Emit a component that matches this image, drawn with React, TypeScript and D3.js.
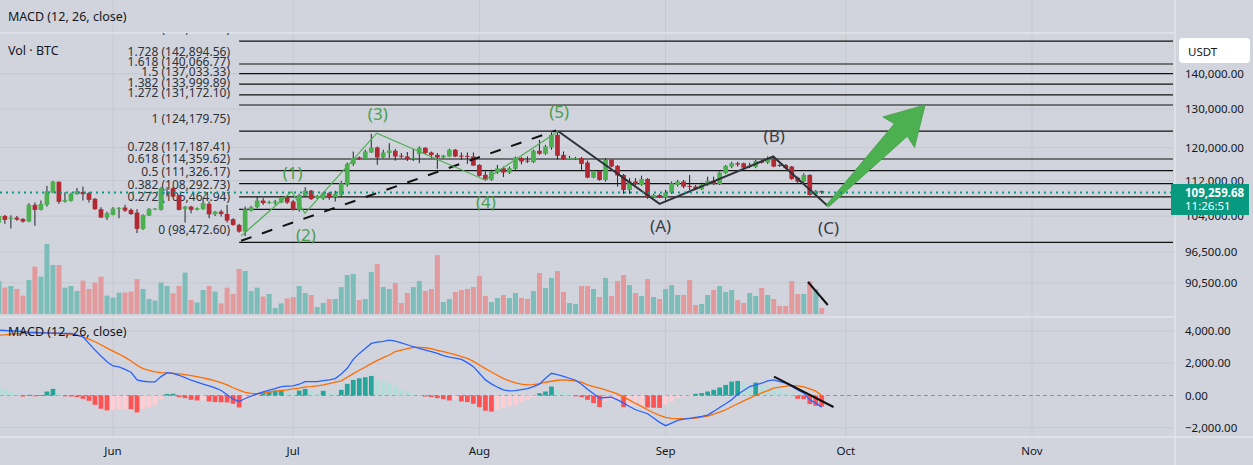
import React from 'react';
import * as d3 from 'd3';

const W = 1253;
const H = 465;
const BG = '#d1d4dc';
const FONT = '"Noto Sans", "Open Sans", sans-serif';
const TEXT = '#131722';

// daily BTC/USDT candles, 13 May – 27 Sep 2025
const firstDay = new Date(Date.UTC(2025, 4, 13));
const lastDay = new Date(Date.UTC(2025, 8, 27));
const days = d3.utcDay.range(firstDay, d3.utcDay.offset(lastDay, 1));

const opens = [
  102610, 104040, 103400, 103680, 103400, 102830, 106490, 105370, 106490, 109240,
  111730, 107220, 107380, 108880, 109400, 109110, 107830, 105520, 103680, 104250,
  105590, 105880, 105370, 104760, 101270, 104100, 105520, 105370, 109850, 110240,
  108500, 105590, 106100, 105430, 105520, 106710, 104400, 104990, 104470, 103340,
  102120, 100700, 105210, 105970, 107450, 106870, 106870, 107000, 108210, 107220,
  105370, 108500, 109680, 107990, 107900, 109110, 108210, 108700, 111000, 115910,
  117560, 117240, 118800, 120040, 117560, 118650, 119220, 118000, 117800, 117300,
  118430, 119960, 118800, 118180, 117560, 117800, 119470, 118000, 117950, 117800,
  115740, 113380, 112200, 113920, 114950, 113920, 114790, 117400, 116780, 116400,
  119220, 118470, 120040, 123240, 118180, 117200, 117200, 117400, 116310, 112710,
  114300, 112170, 116950, 115500, 113340, 109850, 111800, 111000, 112400, 108120,
  108700, 108120, 109240, 111000, 111800, 110780, 110620, 110000, 111000, 111960,
  111230, 113780, 115340, 116140, 116140, 115340, 115260, 116700, 116300, 117100,
  115740, 115740, 115340, 112700, 111760, 113340, 108900, 109620,
];
const highs = [
  104190, 104250, 104190, 104040, 103550, 106870, 107000, 107450, 110780, 111960,
  111800, 109330, 109240, 110310, 110620, 109400, 107990, 105970, 104990, 105970,
  105970, 106490, 105660, 105520, 104400, 105740, 105740, 110470, 110470, 110470,
  108700, 106260, 106260, 105900, 107760, 107220, 105140, 105370, 106490, 103550,
  102340, 106100, 106260, 108340, 107990, 107400, 107600, 108500, 108500, 107600,
  108950, 110470, 109850, 108700, 109400, 109400, 109680, 111960, 116310, 119030,
  117800, 119470, 123500, 120280, 119470, 121100, 119640, 118650, 118900, 119640,
  120280, 120100, 119030, 118650, 118200, 119700, 119640, 118800, 118800, 118800,
  115900, 114200, 114550, 115740, 115350, 115350, 117800, 117650, 117800, 119470,
  121950, 120700, 123900, 124180, 119030, 117950, 117700, 117650, 116780, 114530,
  114530, 117400, 117100, 115740, 113580, 112600, 112600, 113180, 112600, 108950,
  108950, 109850, 111800, 112170, 112170, 113340, 111000, 111560, 112940, 112940,
  114150, 115740, 116520, 116520, 116300, 116300, 116950, 116950, 117800, 117800,
  115980, 115980, 115500, 112940, 113740, 113510, 109850, 109680,
];
const lows = [
  102340, 102340, 101340, 102980, 102610, 102700, 101910, 105250, 106100, 109110,
  106710, 107000, 107220, 108800, 107450, 107000, 105370, 103600, 103190, 104190,
  103550, 104920, 104250, 100400, 101060, 104040, 105300, 105210, 108340, 108210,
  105250, 102610, 104630, 105250, 105370, 103550, 104040, 103890, 102610, 101910,
  100480, 99780, 104990, 105750, 106490, 106700, 106490, 106870, 106710, 105210,
  104990, 108340, 107600, 107760, 107600, 107600, 107220, 108340, 110620, 115500,
  117000, 117160, 118650, 115750, 117400, 117400, 116780, 117400, 116700, 116700,
  116150, 118400, 117400, 114790, 117400, 117650, 117650, 116950, 116000, 115500,
  112980, 112000, 112000, 113600, 112830, 113600, 114550, 115900, 116200, 116200,
  118220, 118220, 119470, 117100, 116950, 117100, 117000, 114530, 112550, 112550,
  112000, 111800, 115190, 110620, 108950, 108950, 111000, 110780, 107830, 107990,
  107990, 107220, 108950, 110620, 110240, 109850, 109850, 109850, 110780, 111000,
  111000, 113580, 114960, 115340, 114960, 114960, 114960, 116100, 115980, 115190,
  115260, 114700, 112170, 111500, 111500, 108550, 108630, 108950,
];
const closes = [
  104040, 103190, 103680, 103250, 102830, 106490, 105370, 106710, 109550, 111730,
  107160, 107600, 108950, 109550, 108880, 107600, 105520, 103680, 104630, 105660,
  105810, 105210, 104470, 101270, 104250, 105590, 105660, 110240, 110080, 108340,
  105370, 106100, 105370, 105750, 106870, 104400, 104990, 104470, 103040, 102120,
  100700, 105520, 105970, 107450, 106870, 107090, 107220, 108210, 107000, 105370,
  108700, 109680, 107760, 108500, 109110, 108210, 108950, 111400, 115990, 117410,
  117240, 119030, 120040, 117560, 118800, 119300, 117800, 117800, 117160, 117480,
  119960, 118650, 118150, 117560, 118000, 119470, 117800, 117800, 117800, 115570,
  113140, 112200, 114160, 114950, 113920, 114950, 117560, 116570, 116530, 119220,
  118470, 120280, 123240, 117970, 117110, 117400, 117400, 115990, 112710, 114300,
  112170, 116950, 115340, 113200, 109850, 111800, 111200, 112400, 108120, 108700,
  108120, 109240, 111400, 111800, 110620, 110540, 110000, 111160, 111960, 111230,
  113900, 115500, 116140, 115810, 115100, 115570, 116700, 116300, 117100, 115340,
  115500, 114960, 112400, 111760, 113340, 108700, 109620, 109259.68,
];
// volume, thousand BTC
const volumes = [
  16.5, 13.2, 14, 12.5, 9.2, 17, 23.7, 18.7, 35, 24.5,
  24.5, 13.2, 14, 11.5, 16.7, 12.5, 15.7, 18.7, 9.2, 8.2,
  10.7, 10.7, 11.2, 17.5, 12.5, 7.5, 6.7, 15.7, 14, 10.3,
  14, 20.7, 7, 5.8, 12, 14, 11.2, 5.3, 13.2, 10,
  22.5, 21.5, 11.5, 13.2, 8.7, 10, 3, 5.3, 7.8, 8.5,
  14, 10.5, 9.5, 3.5, 5.5, 7.5, 7.5, 13.5, 19.5, 20,
  7, 7.5, 21, 25, 13.5, 12.5, 15.5, 5.5, 10.5, 13.5,
  16.5, 11.5, 12.5, 29.5, 6, 7.5, 11, 12, 12.5, 13.5,
  19, 9, 6, 8, 9.5, 8, 10.5, 8, 7.5, 11.5,
  20.5, 13, 18, 21.5, 11, 5.5, 5, 14, 14, 12.5,
  8.5, 18, 9, 16.5, 19.5, 14.5, 10.5, 9, 17.5, 8.5,
  7.5, 12.5, 14.5, 9.5, 9.5, 17, 4.5, 5, 9.5, 12,
  14, 11, 12, 7, 5.5, 10.5, 9, 13, 9.5, 7.5,
  4, 4, 16.5, 10, 10, 16.5, 12.5, 3,
];
const macdLine = [
  4058, 4038, 4017, 3996, 3976, 3935, 3914, 3893, 3893, 3873,
  3873, 3852, 3852, 3749, 3646, 3234, 2822, 2451, 2101, 1833,
  1772, 1627, 1442, 968, 886, 845, 845, 1174, 1421, 1380,
  1257, 1112, 948, 824, 700, 597, 474, 309, 41, -227,
  -371, -185, -41, 103, 227, 330, 433, 556, 577, 597,
  700, 865, 865, 865, 927, 968, 1051, 1339, 1689, 2245,
  2616, 2925, 3234, 3317, 3358, 3440, 3378, 3275, 3152, 3028,
  2925, 2822, 2719, 2616, 2472, 2390, 2328, 2245, 2039, 1792,
  1380, 968, 721, 515, 350, 288, 309, 371, 433, 556,
  700, 1071, 1380, 1298, 1195, 1071, 948, 700, 391, 103,
  -165, -124, -103, -268, -474, -680, -886, -1009, -1133, -1401,
  -1669, -1875, -1710, -1545, -1463, -1421, -1360, -1298, -1215, -989,
  -742, -515, -268, 82, 309, 556, 659, 762, 906, 968,
  865, 762, 556, 350, 144, -268, -474, -721,
];
const signalLine = [
  3749, 3770, 3811, 3832, 3852, 3873, 3893, 3893, 3893, 3873,
  3852, 3832, 3790, 3749, 3646, 3502, 3337, 3152, 2946, 2760,
  2575, 2369, 2142, 1875, 1669, 1566, 1463, 1421, 1401, 1380,
  1339, 1298, 1236, 1174, 1092, 1009, 906, 803, 659, 480,
  330, 200, 130, 110, 140, 206, 268, 309, 350, 412,
  453, 536, 556, 597, 659, 742, 824, 906, 1133, 1360,
  1566, 1772, 1978, 2184, 2348, 2513, 2719, 2822, 2905, 2987,
  2987, 2966, 2905, 2802, 2719, 2637, 2534, 2410, 2307, 2122,
  1895, 1669, 1463, 1257, 1051, 906, 783, 700, 659, 680,
  742, 824, 886, 948, 968, 948, 906, 824, 659, 556,
  453, 350, 227, 103, -103, -288, -494, -680, -886, -1071,
  -1236, -1360, -1421, -1442, -1442, -1421, -1401, -1339, -1277, -1154,
  -1030, -886, -700, -515, -329, -165, 0, 165, 309, 453,
  515, 577, 618, 597, 536, 412, 268, 0,
];
const histogram = [
  453, 350, 206, 62, -62, 41, -41, 20, 247, 412,
  144, -41, -62, -103, -206, -330, -577, -824, -927, -910,
  -886, -840, -850, -1051, -845, -721, -577, -227, 103, 110,
  -103, -165, -268, -309, -300, -371, -412, -420, -433, -515,
  -742, -371, -165, -21, 185, 247, 309, 350, 247, 103,
  309, 412, 288, 144, 288, 185, 144, 350, 721, 968,
  1071, 1133, 1215, 1009, 865, 762, 556, 391, 247, 103,
  21, -62, -103, -165, -227, -309, -268, -371, -412, -515,
  -721, -948, -1000, -886, -783, -680, -577, -433, -268, -103,
  144, 247, 556, 350, 185, 103, -21, -103, -268, -474,
  -721, -371, -268, -260, -721, -660, -650, -640, -742, -760,
  -770, -577, -371, -165, -62, -21, 103, 144, 247, 350,
  494, 659, 865, 906, 803, 556, 803, 659, 556, 453,
  350, 185, 82, -206, -227, -536, -639, -680,
];

const lastPrice = 109259.68;
const countdown = '11:26:51';

// fibonacci extension drawn from the June low to the August high
const fibStart = '2025-06-22T00:00:00Z';
const fibLevels = ['0', '0.272', '0.382', '0.5', '0.618', '0.728', '1', '1.272', '1.382', '1.5', '1.618', '1.728', '2'];
const fibPrices = [
  98472.6, 105464.94, 108292.73, 111326.17, 114359.62, 117187.41, 124179.75,
  131172.1, 133999.89, 137033.33, 140066.77, 142894.56, 149886.9,
];

// elliott impulse (1)-(5) and the A-B-C correction
const impulse = [
  { t: '2025-06-22T08:00:00Z', p: 99800, label: '' },
  { t: '2025-06-30T18:00:00Z', p: 109460, label: '(1)' },
  { t: '2025-07-02T23:00:00Z', p: 104620, label: '(2)' },
  { t: '2025-07-14T22:00:00Z', p: 123680, label: '(3)' },
  { t: '2025-08-01T22:00:00Z', p: 112170, label: '(4)' },
  { t: '2025-08-14T03:00:00Z', p: 124180, label: '(5)' },
];
const correction = [
  { t: '2025-08-14T03:00:00Z', p: 124180, label: '' },
  { t: '2025-08-31T00:00:00Z', p: 106710, label: '(A)' },
  { t: '2025-09-18T22:00:00Z', p: 117800, label: '(B)' },
  { t: '2025-09-27T23:00:00Z', p: 106260, label: '(C)' },
];
const channel = [
  { t: '2025-06-22T08:00:00Z', p: 98800 },
  { t: '2025-08-13T18:00:00Z', p: 124400 },
];
const arrowTip = { t: '2025-10-14T05:00:00Z', p: 131200 };
const volSlash = [
  { t: '2025-09-24T17:00:00Z', v: 16 },
  { t: '2025-09-28T00:00:00Z', v: 4.5 },
];
const macdSlash = [
  { t: '2025-09-19T01:00:00Z', v: 1168 },
  { t: '2025-09-28T23:00:00Z', v: -714 },
];

const priceTicks = [140000, 130000, 120000, 112000, 104000, 96500, 90500];
const macdTicks = [4000, 2000, 0, -2000];

const plotRight = 1175;
const mainTop = 33;
const mainBottom = 317;
const macdBottom = 437;

const x = d3
  .scaleUtc()
  .domain([new Date(Date.UTC(2025, 5, 1)), new Date(Date.UTC(2025, 10, 1))])
  .range([113, 1032]);
const y = d3.scaleLog().domain([98472.6, 142894.56]).range([242.3, 64]);
const yVol = d3.scaleLinear().domain([0, 35]).range([314, 244]);
const yMacd = d3.scaleLinear().domain([-2000, 4000]).range([427.7, 331.1]);

const fmt2 = d3.format(',.2f');
const monthFmt = d3.utcFormat('%b');
const months = d3.utcMonth.range(new Date(Date.UTC(2025, 5, 1)), new Date(Date.UTC(2025, 11, 1)));

const UP = '#4caf50';
const DOWN = '#b22833';
const WICK = '#23262f';
const BODY_W = 4.7;

const histColor = (v: number, prev: number) =>
  v >= 0 ? (v >= prev ? '#26a69a' : '#b2dfdb') : v < prev ? '#ff5252' : '#ffcdd2';

const pt = (d: { t: string; p: number }): [number, number] => [x(d3.isoParse(d.t)!), y(d.p)];

function arrowPath(tail: [number, number], tip: [number, number]) {
  const [tx, ty] = tail;
  const [hx, hy] = tip;
  const len = Math.hypot(hx - tx, hy - ty);
  const ux = (hx - tx) / len;
  const uy = (hy - ty) / len;
  const px = -uy;
  const py = ux;
  const at = (along: number, side: number) => [tx + ux * along + px * side, ty + uy * along + py * side];
  const pts = [
    at(0, 1.5),
    at(len - 35, 9),
    at(len - 38, 22),
    at(len, 0),
    at(len - 38, -22),
    at(len - 35, -9),
    at(0, -1.5),
  ];
  return 'M' + pts.map((p) => p.join(',')).join('L') + 'Z';
}

export default function App() {
  const line = d3.line();
  const macdPath = d3
    .line<number>()
    .x((_, i) => x(days[i]))
    .y((v) => yMacd(v));

  const yLast = y(lastPrice);
  const tailC = pt(correction[correction.length - 1]);

  return (
    <svg
      width={W}
      height={H}
      style={{ position: 'absolute', left: 0, top: 0, background: BG, fontFamily: FONT }}
    >
      <defs>
        <clipPath id="main-clip">
          <rect x={0} y={mainTop} width={plotRight} height={mainBottom - mainTop} />
        </clipPath>
        <clipPath id="macd-clip">
          <rect x={0} y={mainBottom + 2} width={plotRight} height={macdBottom - mainBottom - 2} />
        </clipPath>
      </defs>
      <rect width={W} height={H} fill={BG} />

      {/* month grid */}
      {months.map((m) => (
        <line key={+m} x1={x(m)} x2={x(m)} y1={0} y2={macdBottom} stroke="#c5c8d0" strokeWidth={1} />
      ))}
      {/* price grid */}
      {priceTicks.map((p) => (
        <line key={p} x1={0} x2={plotRight} y1={y(p)} y2={y(p)} stroke="#c5c8d0" strokeWidth={1} />
      ))}
      {macdTicks
        .filter((v) => v !== 0)
        .map((v) => (
          <line key={v} x1={0} x2={plotRight} y1={yMacd(v)} y2={yMacd(v)} stroke="#c5c8d0" strokeWidth={1} />
        ))}

      {/* pane separators */}
      <line x1={0} x2={plotRight} y1={mainTop} y2={mainTop} stroke="#e3e5ea" strokeWidth={1.5} />
      <line x1={0} x2={plotRight} y1={mainBottom} y2={mainBottom} stroke="#e3e5ea" strokeWidth={1.5} />
      <line x1={0} x2={W} y1={macdBottom} y2={macdBottom} stroke="#e3e5ea" strokeWidth={1.5} />
      <line x1={plotRight} x2={plotRight} y1={0} y2={H} stroke="#e3e5ea" strokeWidth={1.5} />

      <g clipPath="url(#main-clip)">
        {/* volume */}
        {days.map((d, i) => (
          <rect
            key={'v' + i}
            x={x(d) - 2.5}
            y={yVol(volumes[i])}
            width={5}
            height={yVol(0) - yVol(volumes[i])}
            fill={closes[i] >= opens[i] ? '#7dbdb9' : '#e39a9c'}
          />
        ))}

        {/* fib levels */}
        {fibPrices.map((p, i) => (
          <g key={'f' + i}>
            <line
              x1={x(d3.isoParse(fibStart)!)}
              x2={plotRight - 2}
              y1={y(p)}
              y2={y(p)}
              stroke="#111"
              strokeWidth={1.2}
            />
            <text x={230} y={y(p) - 8} textAnchor="end" fontSize={12} fill="#2f3238">
              {fibLevels[i]} ({fmt2(p)})
            </text>
          </g>
        ))}

        {/* candles */}
        {days.map((d, i) => {
          const cx = x(d);
          const up = closes[i] >= opens[i];
          const top = y(Math.max(opens[i], closes[i]));
          const bot = y(Math.min(opens[i], closes[i]));
          return (
            <g key={'c' + i}>
              <line x1={cx} x2={cx} y1={y(highs[i])} y2={y(lows[i])} stroke={WICK} strokeWidth={1} />
              <rect
                x={cx - BODY_W / 2}
                y={top}
                width={BODY_W}
                height={Math.max(1, bot - top)}
                fill={up ? UP : DOWN}
              />
            </g>
          );
        })}

        {/* channel line */}
        <path
          d={line(channel.map(pt))!}
          fill="none"
          stroke="#111"
          strokeWidth={2}
          strokeDasharray="11 11"
        />
        {/* impulse */}
        <path d={line(impulse.map(pt))!} fill="none" stroke="#4caf50" strokeWidth={1.2} />
        {/* correction */}
        <path d={line(correction.map(pt))!} fill="none" stroke="#2f3238" strokeWidth={2} />

        {impulse
          .filter((d) => d.label)
          .map((d, i) => {
            const [px, py] = pt(d);
            const peak = i % 2 === 0;
            return (
              <text
                key={d.label}
                x={px + 1}
                y={peak ? py - 13 : py + 28}
                textAnchor="middle"
                fontSize={17}
                fill="#4a9f4e"
              >
                {d.label}
              </text>
            );
          })}
        {correction
          .filter((d) => d.label)
          .map((d) => {
            const [px, py] = pt(d);
            const peak = d.label === '(B)';
            return (
              <text
                key={d.label}
                x={px + 1}
                y={peak ? py - 14 : py + 28}
                textAnchor="middle"
                fontSize={17}
                fill="#3a3d45"
              >
                {d.label}
              </text>
            );
          })}

        {/* target arrow */}
        <path d={arrowPath(tailC, pt(arrowTip))} fill="#4caf50" stroke="#43a047" strokeWidth={0.8} />

        {/* volume slash */}
        <path
          d={line(volSlash.map((d) => [x(d3.isoParse(d.t)!), yVol(d.v)] as [number, number]))!}
          stroke="#111"
          strokeWidth={2}
        />

        {/* last price line */}
        <line
          x1={0}
          x2={plotRight}
          y1={yLast}
          y2={yLast}
          stroke="#089981"
          strokeWidth={2}
          strokeDasharray="2 4"
        />
      </g>

      {/* MACD pane */}
      <g clipPath="url(#macd-clip)">
        <line
          x1={0}
          x2={plotRight}
          y1={yMacd(0)}
          y2={yMacd(0)}
          stroke="#8d9099"
          strokeWidth={1}
          strokeDasharray="4 3"
        />
        {histogram.map((v, i) => {
          const prev = i > 0 ? histogram[i - 1] : v + 1;
          const y0 = yMacd(0);
          const y1 = yMacd(v);
          return (
            <rect
              key={'h' + i}
              x={x(days[i]) - BODY_W / 2}
              y={Math.min(y0, y1)}
              width={BODY_W}
              height={Math.max(0.8, Math.abs(y1 - y0))}
              fill={histColor(v, prev)}
            />
          );
        })}
        <path d={macdPath(signalLine)!} fill="none" stroke="#ff6d00" strokeWidth={1.3} />
        <path d={macdPath(macdLine)!} fill="none" stroke="#2962ff" strokeWidth={1.3} />
        <path
          d={line(macdSlash.map((d) => [x(d3.isoParse(d.t)!), yMacd(d.v)] as [number, number]))!}
          stroke="#111"
          strokeWidth={2}
        />
        <text x={8} y={336} fontSize={12.5} fill={TEXT}>
          MACD (12, 26, close)
        </text>
      </g>

      {/* legends */}
      <text x={8} y={21} fontSize={12.5} fill={TEXT}>
        MACD (12, 26, close)
      </text>
      <text x={8} y={55} fontSize={12.5} fill={TEXT}>
        Vol · BTC
      </text>

      {/* price axis */}
      <rect x={1179} y={38} width={71} height={25} rx={4} fill="#ffffff" />
      <text x={1188} y={55.5} fontSize={11.5} fill={TEXT}>
        USDT
      </text>
      {priceTicks.map((p) => (
        <text key={'pt' + p} x={1185} y={y(p) + 4} fontSize={11.5} fill={TEXT}>
          {fmt2(p)}
        </text>
      ))}
      <rect x={1171} y={yLast - 8.5} width={78} height={31} fill="#089981" />
      <text x={1185} y={yLast + 4.5} fontSize={11.5} fontWeight="bold" fill="#ffffff">
        {fmt2(lastPrice)}
      </text>
      <text x={1185} y={yLast + 17.5} fontSize={11.5} fill="#ffffff">
        {countdown}
      </text>

      {/* MACD axis */}
      {macdTicks.map((v) => (
        <text key={'mt' + v} x={1185} y={yMacd(v) + 4} fontSize={11.5} fill={TEXT}>
          {d3.format(',.2f')(v).replace('-', '\u2212')}
        </text>
      ))}

      {/* time axis */}
      {months.map((m) => (
        <text key={'ml' + +m} x={x(m)} y={455} textAnchor="middle" fontSize={11.5} fill={TEXT}>
          {monthFmt(m)}
        </text>
      ))}
    </svg>
  );
}
